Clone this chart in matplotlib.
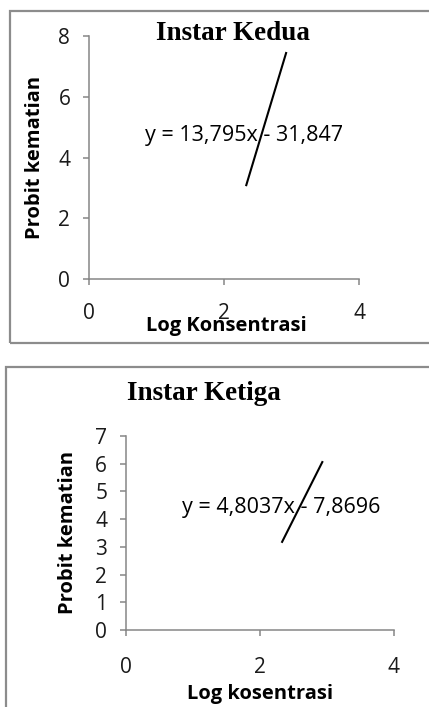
import matplotlib.pyplot as plt
from matplotlib.patches import Rectangle

# data (trend line end points)
kedua_x = [2.33, 2.92]
kedua_y = [3.09, 7.44]
kedua_eq = "y = 13,795x - 31,847"

ketiga_x = [2.33, 2.93]
ketiga_y = [3.18, 6.06]
ketiga_eq = "y = 4,8037x - 7,8696"

W, H = 429, 707
fig = plt.figure(figsize=(W / 100, H / 100), dpi=100)

def px(l, t, r, b):
    # pixel box -> figure fraction
    return [l / W, 1 - b / H, (r - l) / W, (b - t) / H]

# outer gray frames
fig.patches.append(Rectangle((10 / W, 1 - 343 / H), 430 / W, 332 / H, transform=fig.transFigure,
                             fill=False, ec="#8c8c8c", lw=1.6))
fig.patches.append(Rectangle((6 / W, -0.01), 430 / W, 1 - 367 / H + 0.01, transform=fig.transFigure,
                             fill=False, ec="#8c8c8c", lw=1.6))

body = "Open Sans"
grey = "#868686"
tick_fs = 15
lab_fs = 14.5
eq_fs = 15.5
title_fs = 19.5

def style(ax, ylim, yticks):
    ax.set_xlim(0, 4)
    ax.set_ylim(*ylim)
    ax.set_xticks([0, 2, 4])
    ax.set_yticks(yticks)
    for s in ["top", "right"]:
        ax.spines[s].set_visible(False)
    for s in ["left", "bottom"]:
        ax.spines[s].set_color(grey)
        ax.spines[s].set_linewidth(1.1)
    ax.tick_params(direction="out", length=4.5, width=1.1, color=grey, labelsize=tick_fs,
                   labelcolor="#1a1a1a")
    for lab in ax.get_xticklabels() + ax.get_yticklabels():
        lab.set_family(body)

# Instar Kedua
ax1 = fig.add_axes(px(89, 36, 359, 279))
style(ax1, (0, 8), [0, 2, 4, 6, 8])
ax1.tick_params(axis="x", pad=13)
ax1.tick_params(axis="y", pad=9)
ax1.plot(kedua_x, kedua_y, color="black", lw=1.5)
fig.text(233 / W, 1 - 34 / H, "Instar Kedua", family="Liberation Serif", weight="bold",
         size=title_fs, ha="center", va="center")
fig.text(35 / W, 1 - 157 / H, "Probit kematian", family=body, weight="bold", size=lab_fs,
         rotation=90, ha="center", va="center")
fig.text(226 / W, 1 - 326 / H, "Log Konsentrasi", family=body, weight="bold", size=lab_fs,
         ha="center", va="center")
fig.text(145 / W, 1 - 135 / H, kedua_eq, family=body, size=eq_fs, ha="left", va="center")

# Instar Ketiga
ax2 = fig.add_axes(px(126, 436, 394, 630))
style(ax2, (0, 7), [0, 1, 2, 3, 4, 5, 6, 7])
ax2.tick_params(axis="x", pad=15)
ax2.tick_params(axis="y", pad=9)
ax2.plot(ketiga_x, ketiga_y, color="black", lw=1.5)
fig.text(204 / W, 1 - 393 / H, "Instar Ketiga", family="Liberation Serif", weight="bold",
         size=title_fs, ha="center", va="center")
fig.text(68 / W, 1 - 532 / H, "Probit kematian", family=body, weight="bold", size=lab_fs,
         rotation=90, ha="center", va="center")
fig.text(260 / W, 1 - 694 / H, "Log kosentrasi", family=body, weight="bold", size=lab_fs,
         ha="center", va="center")
fig.text(182 / W, 1 - 508 / H, ketiga_eq, family=body, size=eq_fs, ha="left", va="center")

fig.savefig("out.png", dpi=100)
